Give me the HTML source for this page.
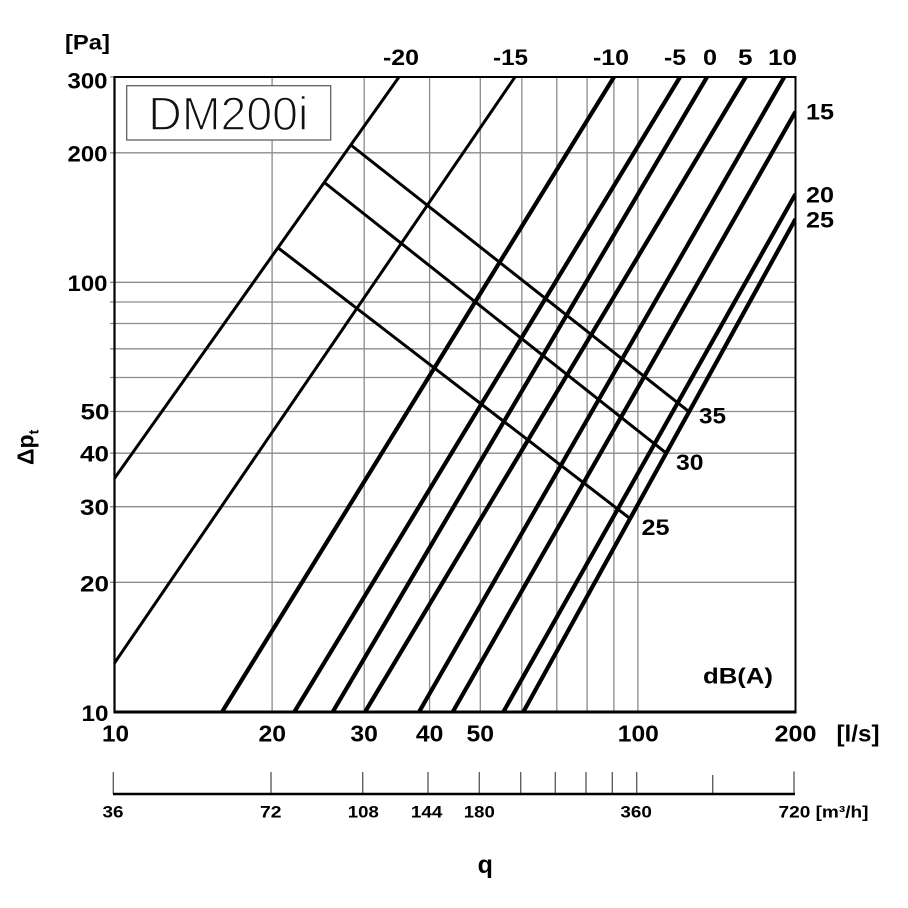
<!DOCTYPE html>
<html>
<head>
<meta charset="utf-8">
<style>
html,body{margin:0;padding:0;background:#fff;}
svg{display:block;}
text{font-family:"Liberation Sans",Arial,sans-serif;font-weight:bold;fill:#000;}
</style>
</head>
<body>
<svg width="908" height="908" viewBox="0 0 908 908" xmlns="http://www.w3.org/2000/svg">
<rect x="0" y="0" width="908" height="908" fill="#fff"/>
<defs>
<clipPath id="plot"><rect x="114.5" y="77" width="681" height="635"/></clipPath>
</defs>

<!-- grid verticals -->
<g stroke="#8c8c8c" stroke-width="1.3">
<line x1="272.1" y1="77" x2="272.1" y2="712"/>
<line x1="364.2" y1="77" x2="364.2" y2="712"/>
<line x1="429.6" y1="77" x2="429.6" y2="712"/>
<line x1="480.3" y1="77" x2="480.3" y2="712"/>
<line x1="521.8" y1="77" x2="521.8" y2="712"/>
<line x1="556.8" y1="77" x2="556.8" y2="712"/>
<line x1="587.1" y1="77" x2="587.1" y2="712"/>
<line x1="613.9" y1="77" x2="613.9" y2="712"/>
<line x1="637.9" y1="77" x2="637.9" y2="712"/>
<!-- grid horizontals -->
<line x1="110" y1="582.3" x2="795.5" y2="582.3"/>
<line x1="110" y1="506.7" x2="795.5" y2="506.7"/>
<line x1="110" y1="453.2" x2="795.5" y2="453.2"/>
<line x1="110" y1="411.5" x2="795.5" y2="411.5"/>
<line x1="110" y1="377.5" x2="795.5" y2="377.5"/>
<line x1="110" y1="348.8" x2="795.5" y2="348.8"/>
<line x1="110" y1="323.5" x2="795.5" y2="323.5"/>
<line x1="110" y1="302" x2="795.5" y2="302"/>
<line x1="110" y1="282.3" x2="795.5" y2="282.3"/>
<line x1="110" y1="152.8" x2="795.5" y2="152.8"/>
<line x1="110" y1="77" x2="114" y2="77"/>
</g>

<!-- title box -->
<rect x="126.7" y="85.7" width="204" height="54.3" fill="#fff" stroke="#555" stroke-width="1.2"/>
<text x="148.3" y="130" font-size="47" textLength="160" lengthAdjust="spacingAndGlyphs" style="font-weight:normal;fill:#111;stroke:#fff;stroke-width:1.4px;paint-order:fill">DM200i</text>

<g clip-path="url(#plot)" fill="none" stroke="#000" stroke-linecap="butt">
<!-- thin lines -->
<line x1="114.5" y1="478.3" x2="399" y2="77" stroke-width="3"/>
<line x1="114.5" y1="663" x2="515" y2="77" stroke-width="3"/>
<!-- cross lines (dB(A) 35,30,25) -->
<line x1="351.5" y1="145.5" x2="689" y2="411.7" stroke-width="3"/>
<line x1="325" y1="183" x2="666.5" y2="453.3" stroke-width="3"/>
<line x1="278.3" y1="248" x2="630" y2="518.5" stroke-width="3"/>
<!-- thick lines -->
<line x1="222" y1="712" x2="614" y2="77" stroke-width="4.2"/>
<line x1="294.3" y1="712" x2="680" y2="77" stroke-width="4.2"/>
<line x1="332.7" y1="712" x2="707" y2="77" stroke-width="4.2"/>
<line x1="365" y1="712" x2="745.7" y2="77" stroke-width="4.2"/>
<line x1="419" y1="712" x2="784.3" y2="77" stroke-width="4.2"/>
<line x1="452.7" y1="712" x2="795.5" y2="111.7" stroke-width="4.2"/>
<line x1="503.3" y1="712" x2="795.5" y2="194" stroke-width="4.2"/>
<line x1="523.3" y1="712" x2="795.5" y2="219" stroke-width="4.2"/>
</g>

<!-- frame -->
<g stroke="#000" fill="none">
<line x1="114.5" y1="76" x2="114.5" y2="713" stroke-width="2.2"/>
<line x1="113.5" y1="77" x2="796.5" y2="77" stroke-width="2"/>
<line x1="795.5" y1="76" x2="795.5" y2="713" stroke-width="2"/>
<line x1="113.5" y1="712" x2="796.5" y2="712" stroke-width="3"/>
</g>

<!-- y labels -->
<text x="65" y="49.5" font-size="21" textLength="45" lengthAdjust="spacingAndGlyphs">[Pa]</text>
<g font-size="22" text-anchor="end">
<text x="107.5" y="88.5" textLength="40" lengthAdjust="spacingAndGlyphs">300</text>
<text x="107.5" y="161.7" textLength="40" lengthAdjust="spacingAndGlyphs">200</text>
<text x="107.5" y="291" textLength="40" lengthAdjust="spacingAndGlyphs">100</text>
<text x="109.5" y="419.5" textLength="29" lengthAdjust="spacingAndGlyphs">50</text>
<text x="109" y="461.7" textLength="29" lengthAdjust="spacingAndGlyphs">40</text>
<text x="109" y="515.2" textLength="29" lengthAdjust="spacingAndGlyphs">30</text>
<text x="109" y="591.5" textLength="29" lengthAdjust="spacingAndGlyphs">20</text>
<text x="108.5" y="721" textLength="27" lengthAdjust="spacingAndGlyphs">10</text>
</g>
<text transform="translate(33.3,465) rotate(-90)" font-size="23">Δp<tspan font-size="14" dy="5">t</tspan></text>

<!-- top dB labels -->
<g font-size="22">
<text x="383" y="65" textLength="36" lengthAdjust="spacingAndGlyphs">-20</text>
<text x="493" y="65" textLength="35" lengthAdjust="spacingAndGlyphs">-15</text>
<text x="593" y="65" textLength="36" lengthAdjust="spacingAndGlyphs">-10</text>
<text x="664" y="65" textLength="22" lengthAdjust="spacingAndGlyphs">-5</text>
<text x="703" y="65" textLength="14" lengthAdjust="spacingAndGlyphs">0</text>
<text x="738" y="65" textLength="14.5" lengthAdjust="spacingAndGlyphs">5</text>
<text x="768" y="65" textLength="29" lengthAdjust="spacingAndGlyphs">10</text>
<text x="806" y="119.3" textLength="28" lengthAdjust="spacingAndGlyphs">15</text>
<text x="806" y="202.3" textLength="28" lengthAdjust="spacingAndGlyphs">20</text>
<text x="806" y="227.3" textLength="28" lengthAdjust="spacingAndGlyphs">25</text>
<text x="699" y="423.3" textLength="27" lengthAdjust="spacingAndGlyphs">35</text>
<text x="676" y="470" textLength="27.5" lengthAdjust="spacingAndGlyphs">30</text>
<text x="641.5" y="535" textLength="28" lengthAdjust="spacingAndGlyphs">25</text>
<text x="703" y="683.3" textLength="70" lengthAdjust="spacingAndGlyphs">dB(A)</text>
</g>

<!-- x labels -->
<g font-size="23" text-anchor="middle">
<text x="115.5" y="741.5" textLength="27" lengthAdjust="spacingAndGlyphs">10</text>
<text x="272.3" y="741.5" textLength="27.5" lengthAdjust="spacingAndGlyphs">20</text>
<text x="364.2" y="741.5" textLength="27.5" lengthAdjust="spacingAndGlyphs">30</text>
<text x="429.6" y="741.5" textLength="27.5" lengthAdjust="spacingAndGlyphs">40</text>
<text x="480.3" y="741.5" textLength="27.5" lengthAdjust="spacingAndGlyphs">50</text>
<text x="638.3" y="741.5" textLength="41" lengthAdjust="spacingAndGlyphs">100</text>
<text x="795.5" y="741.5" textLength="42" lengthAdjust="spacingAndGlyphs">200</text>
</g>
<text x="836.5" y="741.5" font-size="23" textLength="43" lengthAdjust="spacingAndGlyphs">[l/s]</text>

<!-- q axis -->
<g stroke="#555" stroke-width="1.3">
<line x1="113.3" y1="772" x2="113.3" y2="794"/>
<line x1="271" y1="772" x2="271" y2="794"/>
<line x1="362.7" y1="772" x2="362.7" y2="794"/>
<line x1="428" y1="772" x2="428" y2="794"/>
<line x1="479.3" y1="772" x2="479.3" y2="794"/>
<line x1="520.7" y1="772" x2="520.7" y2="794"/>
<line x1="555.3" y1="772" x2="555.3" y2="794"/>
<line x1="586" y1="772" x2="586" y2="794"/>
<line x1="612.3" y1="772" x2="612.3" y2="794"/>
<line x1="636.7" y1="772" x2="636.7" y2="794"/>
<line x1="712.7" y1="775" x2="712.7" y2="794"/>
<line x1="794" y1="771.5" x2="794" y2="794"/>
</g>
<line x1="113" y1="794" x2="795" y2="794" stroke="#000" stroke-width="2.5"/>
<g font-size="17" text-anchor="middle">
<text x="113" y="817.5" textLength="21" lengthAdjust="spacingAndGlyphs">36</text>
<text x="270.8" y="817.5" textLength="21.5" lengthAdjust="spacingAndGlyphs">72</text>
<text x="363.3" y="817.5" textLength="31" lengthAdjust="spacingAndGlyphs">108</text>
<text x="426.7" y="817.5" textLength="31.5" lengthAdjust="spacingAndGlyphs">144</text>
<text x="479.3" y="817.5" textLength="31" lengthAdjust="spacingAndGlyphs">180</text>
<text x="636.2" y="817.5" textLength="31.5" lengthAdjust="spacingAndGlyphs">360</text>
</g>
<text x="778.5" y="817.5" font-size="17" textLength="90" lengthAdjust="spacingAndGlyphs">720 [m³/h]</text>

<text x="485.3" y="873" font-size="25" text-anchor="middle">q</text>
</svg>
</body>
</html>
